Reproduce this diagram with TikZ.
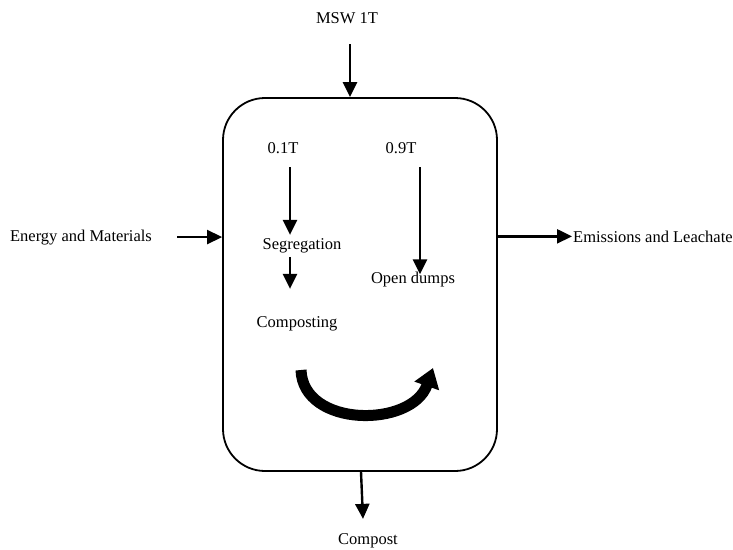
\documentclass[tikz,border=0pt]{standalone}
\usepackage{fontspec}
\setmainfont{Liberation Serif}
\usetikzlibrary{arrows.meta, positioning, calc}

\begin{document}
\begin{tikzpicture}[
    x=1pt, y=-1pt,
    every node/.style={font=\fontsize{16.5}{20}\selectfont, inner sep=0pt},
    txt/.style={anchor=base},
    procbox/.style={draw, rectangle, rounded corners=42pt, line width=1.8pt, minimum width=274pt, minimum height=373pt},
    arr/.style={-{Triangle[length=15pt, width=14pt]}, line width=2.4pt},
    turn/.style={-{Triangle[length=19pt, width=25pt]}, line width=11pt}
  ]
  \useasboundingbox (0,0) rectangle (733,549);

  \node[procbox] (proc) at (360,284.5) {};

  \node[txt] (msw) at (347,23) {MSW 1T};
  \node[txt] (t01) at (283,153) {0.1T};
  \node[txt] (t09) at (401,153) {0.9T};
  \node[txt] (seg) at (302,249) {Segregation};
  \node[txt] (comp) at (297,327) {Composting};
  \node[txt] (dump) at (413,283) {Open dumps};
  \node[txt] (ener) at (81,241) {Energy and Materials};
  \node[txt, anchor=base west] (emis) at (573,242) {Emissions and Leachate};
  \node[txt] (cpst) at (368,544) {Compost};

  \draw[arr] ([xshift=3pt, yshift=-21pt]msw.south) -- ([xshift=-10pt]proc.north);
  \draw[arr] ([xshift=7pt, yshift=-14pt]t01.south) -- ([xshift=-12pt, yshift=3pt]seg.north);
  \draw[arr] ([xshift=-12pt, yshift=-4pt]seg.south) -- ([xshift=-7pt, yshift=27pt]comp.north);
  \draw[arr] ([xshift=19pt, yshift=-14pt]t09.south) -- ([xshift=7pt, yshift=-3pt]dump.north);
  \draw[arr, shorten <=25pt] (ener.east) -- (ener.east -| proc.west);
  \draw[arr, shorten >=1pt] (emis.west -| proc.east) -- (emis.west);
  \draw[arr] ([xshift=1pt]proc.south) -- ([xshift=-5pt, yshift=14pt]cpst.north);

  % turning arrow inside the box
  \coordinate (turnA) at (301,370);
  \coordinate (turnB) at (433,368);
  \draw[turn] (turnA) .. controls (303,428) and (412,428) .. (turnB);
\end{tikzpicture}
\end{document}
